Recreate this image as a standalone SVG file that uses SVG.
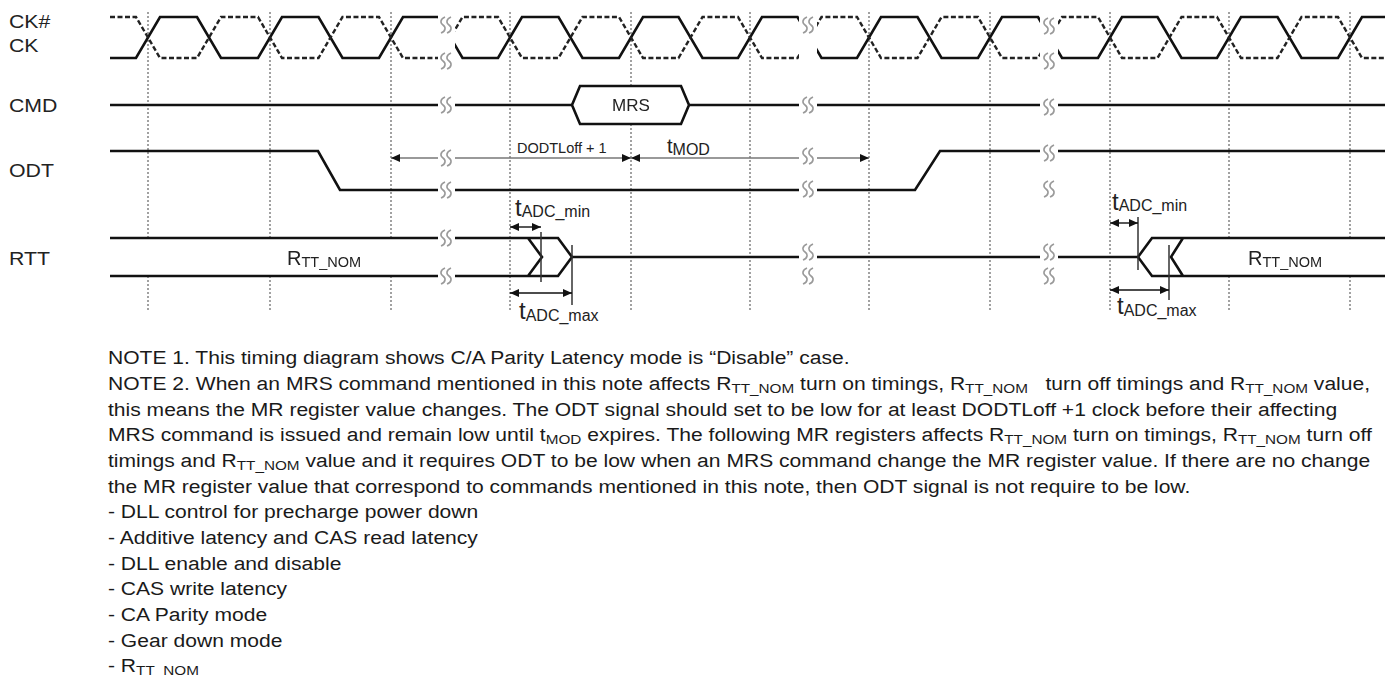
<svg xmlns="http://www.w3.org/2000/svg" width="1385" height="676" viewBox="0 0 1385 676">
<style>
.lbl{font-family:"Liberation Sans",Arial,sans-serif;font-size:19px;fill:#222}
.note{font-family:"Liberation Sans",Arial,sans-serif;font-size:18.6px;fill:#1a1a1a}
.ns{font-size:13.5px}
.t{font-family:"Liberation Sans",Arial,sans-serif;fill:#222}
.sig{fill:none;stroke:#111;stroke-width:2.6;stroke-linejoin:miter}
.dash{fill:none;stroke:#222;stroke-width:2.4;stroke-dasharray:5 2.5}
.grid{stroke:#555;stroke-width:1.1;stroke-dasharray:2 2}
.tick{stroke:#333;stroke-width:1.5}
.dim{stroke:#111;stroke-width:1.4}
.odtarr{stroke:#777;stroke-width:1.5}
.brk path{fill:none;stroke:#9a9a9a;stroke-width:1.6}
</style>
<defs>
<marker id="ah" viewBox="0 0 9 8" refX="9" refY="4" markerWidth="9" markerHeight="8" markerUnits="userSpaceOnUse" orient="auto-start-reverse"><path d="M0,0 L9,4 L0,8 z" fill="#111"/></marker>
<g id="brk" class="brk"><path d="M-1,-8 C-6,-6 -6,-2 -3,0 C0,2 0,6 -5,8"/><path d="M5,-8 C0,-6 0,-2 3,0 C6,2 6,6 1,8"/></g>
<mask id="gaps" maskUnits="userSpaceOnUse" x="0" y="0" width="1385" height="676">
<rect x="0" y="0" width="1385" height="676" fill="#fff"/>
<rect x="438" y="0" width="17" height="300" fill="#000"/>
<rect x="799" y="0" width="18" height="300" fill="#000"/>
<rect x="1040" y="0" width="18" height="300" fill="#000"/>
</mask>
</defs>
<rect width="1385" height="676" fill="#fff"/>

<g id="labels">
<text class="lbl" transform="translate(9,27.5) scale(1.12,1)">CK#</text>
<text class="lbl" transform="translate(9,52) scale(1.12,1)">CK</text>
<text class="lbl" transform="translate(9,111.5) scale(1.12,1)">CMD</text>
<text class="lbl" transform="translate(9,177) scale(1.12,1)">ODT</text>
<text class="lbl" transform="translate(9,265) scale(1.12,1)">RTT</text>
</g>

<g id="grid">
<line class="grid" x1="148" y1="12" x2="148" y2="310"/>
<line class="grid" x1="270" y1="12" x2="270" y2="310"/>
<line class="grid" x1="391" y1="12" x2="391" y2="310"/>
<line class="grid" x1="510" y1="12" x2="510" y2="310"/>
<line class="grid" x1="631" y1="12" x2="631" y2="310"/>
<line class="grid" x1="750" y1="12" x2="750" y2="310"/>
<line class="grid" x1="869" y1="12" x2="869" y2="310"/>
<line class="grid" x1="990" y1="12" x2="990" y2="310"/>
<line class="grid" x1="1110" y1="12" x2="1110" y2="310"/>
<line class="grid" x1="1229" y1="12" x2="1229" y2="310"/>
<line class="grid" x1="1350" y1="12" x2="1350" y2="310"/>
</g>

<g mask="url(#gaps)">
<g id="ck">
<path class="sig" d="M110,58 L136,58 L160,17 L197,17 L221,58 L258,58 L282,17 L318.5,17 L342.5,58 L379,58 L403,17 L438.5,17 L462.5,58 L498,58 L522,17 L558.5,17 L582.5,58 L619,58 L643,17 L678.5,17 L702.5,58 L738,58 L762,17 L797.5,17 L821.5,58 L857,58 L881,17 L917.5,17 L941.5,58 L978,58 L1002,17 L1038,17 L1062,58 L1098,58 L1122,17 L1157.5,17 L1181.5,58 L1217,58 L1241,17 L1277.5,17 L1301.5,58 L1338,58 L1362,17 L1385,17"/>
</g>
<g id="ck-n">
<path class="dash" d="M110,17 L136,17 L160,58 L197,58 L221,17 L258,17 L282,58 L318.5,58 L342.5,17 L379,17 L403,58 L438.5,58 L462.5,17 L498,17 L522,58 L558.5,58 L582.5,17 L619,17 L643,58 L678.5,58 L702.5,17 L738,17 L762,58 L797.5,58 L821.5,17 L857,17 L881,58 L917.5,58 L941.5,17 L978,17 L1002,58 L1038,58 L1062,17 L1098,17 L1122,58 L1157.5,58 L1181.5,17 L1217,17 L1241,58 L1277.5,58 L1301.5,17 L1338,17 L1362,58 L1385,58"/>
</g>
<g id="cmd">
<polygon points="572,105 580,86 681,86 689,105 681,124 580,124" fill="#fff" stroke="#111" stroke-width="2.6"/>
<path class="sig" d="M110,105 L572,105 M689,105 L1385,105"/>
<text class="t" x="631" y="111" font-size="17" text-anchor="middle">MRS</text>
</g>
<g id="odt">
<path class="sig" d="M110,151 L318,151 L340,190 L915,190 L940,151 L1385,151"/>
</g>
<g id="rtt">
<rect x="110" y="238" width="390" height="38" fill="#fff"/>
<rect x="1152" y="238" width="233" height="38" fill="#fff"/>
<path class="sig" d="M110,238 L558,238 L572,257 L558,276 L110,276 M528,238 L542,257 L528,276 M572,257 L1138,257 L1152,238 L1385,238 M1138,257 L1152,276 L1385,276 M1183,238 L1171,257 L1183,276"/>
<text class="t" x="287" y="265" font-size="20">R<tspan font-size="14.5" dy="2">TT_NOM</tspan></text>
<text class="t" x="1248" y="265" font-size="20">R<tspan font-size="14.5" dy="2">TT_NOM</tspan></text>
</g>
<g id="connectors">
<line class="odtarr" x1="391" y1="158" x2="631" y2="158" marker-start="url(#ah)" marker-end="url(#ah)"/>
<line class="odtarr" x1="631" y1="158" x2="869" y2="158" marker-start="url(#ah)" marker-end="url(#ah)"/>
<line class="tick" x1="541" y1="232" x2="541" y2="282"/>
<line class="tick" x1="572" y1="245" x2="572" y2="305"/>
<line class="tick" x1="1138" y1="217" x2="1138" y2="270"/>
<line class="tick" x1="1169" y1="245" x2="1169" y2="300"/>
<line class="dim" x1="510" y1="227" x2="541" y2="227" marker-start="url(#ah)" marker-end="url(#ah)"/>
<line class="dim" x1="510" y1="293" x2="572" y2="293" marker-start="url(#ah)" marker-end="url(#ah)"/>
<line class="dim" x1="1110" y1="223" x2="1138" y2="223" marker-start="url(#ah)" marker-end="url(#ah)"/>
<line class="dim" x1="1110" y1="290" x2="1169" y2="290" marker-start="url(#ah)" marker-end="url(#ah)"/>
</g>
</g>

<g id="breaks">
<use href="#brk" x="446" y="25"/><use href="#brk" x="446" y="61"/><use href="#brk" x="446" y="105"/><use href="#brk" x="446" y="158"/><use href="#brk" x="446" y="190"/><use href="#brk" x="446" y="238"/><use href="#brk" x="446" y="276"/>
<use href="#brk" x="808" y="25"/><use href="#brk" x="808" y="105"/><use href="#brk" x="808" y="156"/><use href="#brk" x="808" y="189"/><use href="#brk" x="808" y="252"/><use href="#brk" x="808" y="276"/>
<use href="#brk" x="1049" y="26"/><use href="#brk" x="1049" y="61"/><use href="#brk" x="1049" y="107"/><use href="#brk" x="1049" y="153"/><use href="#brk" x="1049" y="189"/><use href="#brk" x="1049" y="252"/><use href="#brk" x="1049" y="276"/>
</g>

<g id="timing-labels">
<text class="t" x="517" y="153" font-size="14.5" fill="#333">DODTLoff + 1</text>
<text class="t" x="667" y="153" font-size="20">t<tspan font-size="16" dy="2">MOD</tspan></text>
<text class="t" x="515" y="216" font-size="24">t<tspan font-size="16" dy="1">ADC_min</tspan></text>
<text class="t" x="519" y="319" font-size="24">t<tspan font-size="16" dy="2">ADC_max</tspan></text>
<text class="t" x="1112" y="210" font-size="24">t<tspan font-size="16" dy="1">ADC_min</tspan></text>
<text class="t" x="1117" y="314" font-size="24">t<tspan font-size="16" dy="2">ADC_max</tspan></text>
</g>

<g id="notes" class="note" transform="translate(108,0) scale(1.133,1)">
<text x="0" y="364.5">NOTE 1. This timing diagram shows C/A Parity Latency mode is “Disable” case.</text>
<text x="0" y="390.2">NOTE 2. When an MRS command mentioned in this note affects R<tspan class="ns" dy="3">TT_NOM</tspan><tspan dy="-3"> turn on timings, R</tspan><tspan class="ns" dy="3">TT_NOM</tspan><tspan dy="-3">&#160;&#160; turn off timings and R</tspan><tspan class="ns" dy="3">TT_NOM</tspan><tspan dy="-3"> value,</tspan></text>
<text x="0" y="415.8">this means the MR register value changes. The ODT signal should set to be low for at least DODTLoff +1 clock before their affecting</text>
<text x="0" y="441.5">MRS command is issued and remain low until t<tspan class="ns" dy="3">MOD</tspan><tspan dy="-3"> expires. The following MR registers affects R</tspan><tspan class="ns" dy="3">TT_NOM</tspan><tspan dy="-3"> turn on timings, R</tspan><tspan class="ns" dy="3">TT_NOM</tspan><tspan dy="-3"> turn off</tspan></text>
<text x="0" y="467.1">timings and R<tspan class="ns" dy="3">TT_NOM</tspan><tspan dy="-3"> value and it requires ODT to be low when an MRS command change the MR register value. If there are no change</tspan></text>
<text x="0" y="492.8">the MR register value that correspond to commands mentioned in this note, then ODT signal is not require to be low.</text>
<text x="0" y="518.4">- DLL control for precharge power down</text>
<text x="0" y="544.1">- Additive latency and CAS read latency</text>
<text x="0" y="569.7">- DLL enable and disable</text>
<text x="0" y="595.4">- CAS write latency</text>
<text x="0" y="621">- CA Parity mode</text>
<text x="0" y="646.7">- Gear down mode</text>
<text x="0" y="672.3">- R<tspan class="ns" dy="3">TT_NOM</tspan></text>
</g>
</svg>
